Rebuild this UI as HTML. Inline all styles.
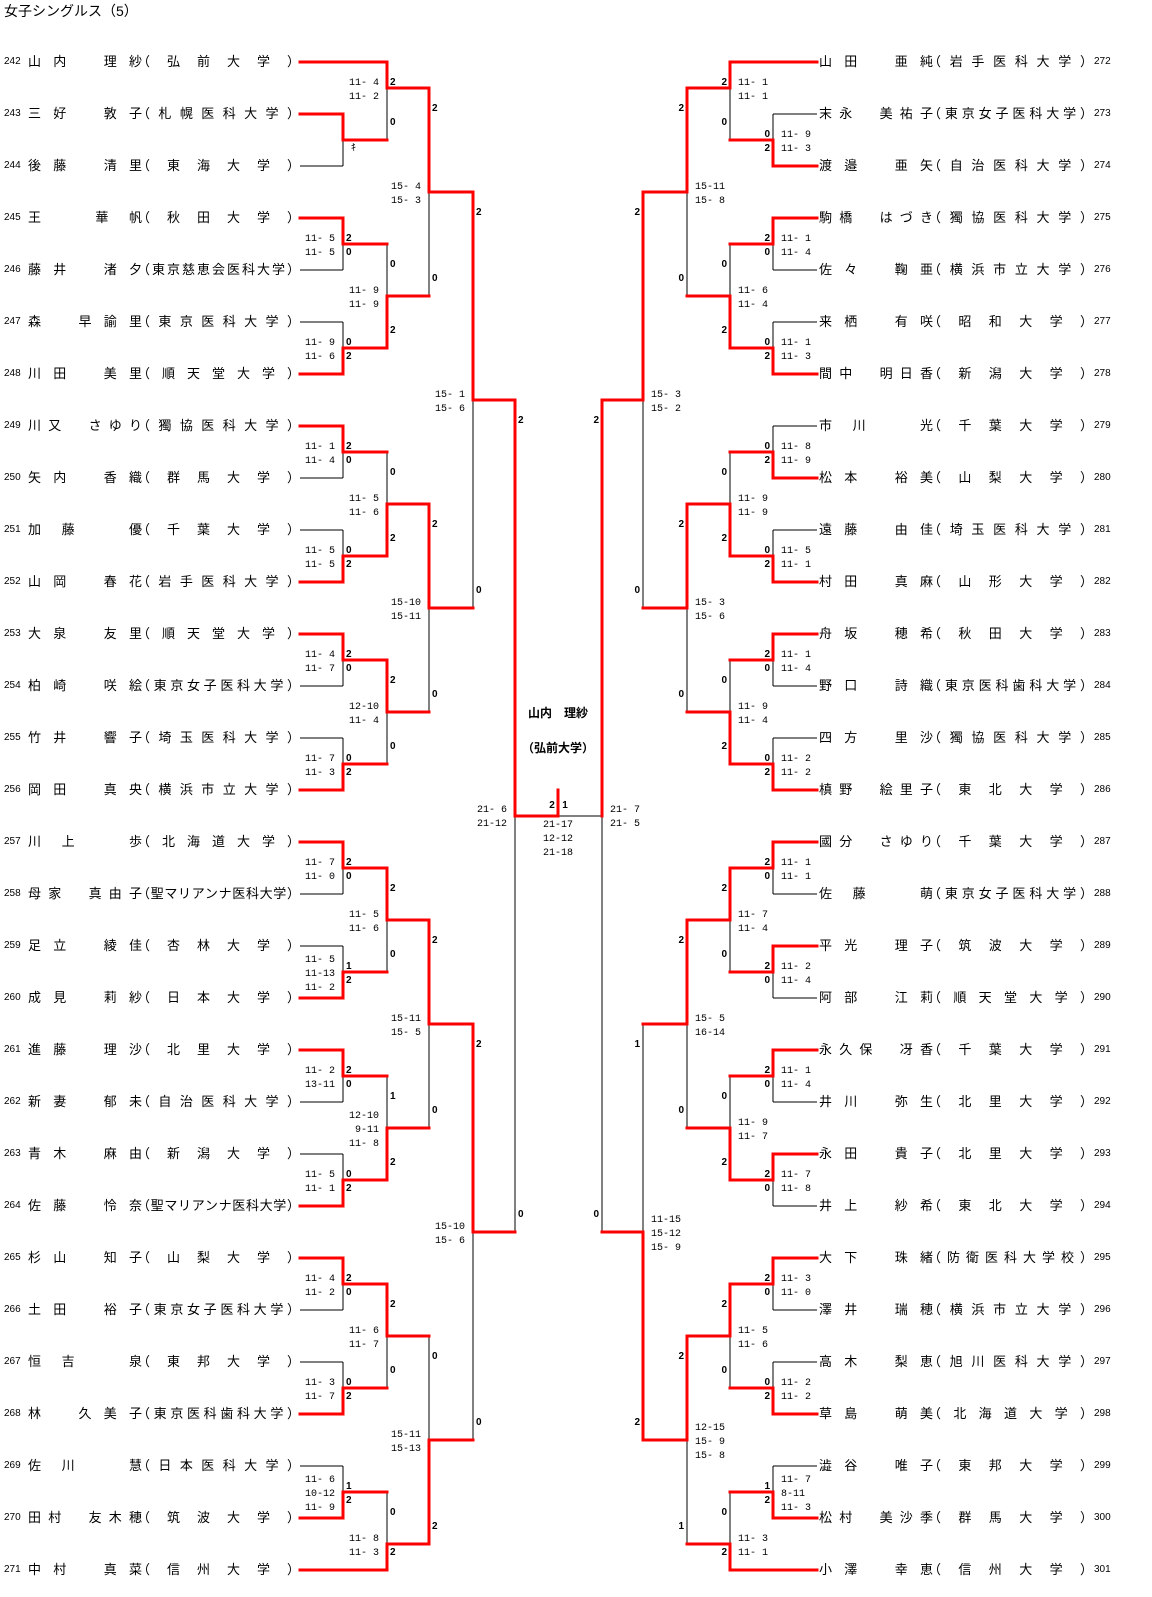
<!DOCTYPE html>
<html><head><meta charset="utf-8">
<style>
html,body{margin:0;padding:0;background:#fff;}
body{width:1152px;height:1597px;position:relative;overflow:hidden;font-family:"Liberation Sans","Noto Sans CJK JP",sans-serif;color:#000;}
svg{position:absolute;left:0;top:0;}
.r{position:absolute;left:0;width:1152px;height:16px;line-height:16px;font-size:13px;}
.r span{position:absolute;top:0;white-space:nowrap;text-align:justify;text-align-last:justify;}
.n{font-size:10px;font-family:"Liberation Sans",sans-serif;}
.L .n{left:4px;width:20px;text-align-last:auto!important;}
.L .nm{left:28px;width:114px;}
.L .u{left:137px;width:163px;}
.R .nm{left:819px;width:114px;}
.R .u{left:928px;width:165px;}
.R .n{left:1094px;width:22px;text-align-last:auto!important;}
.t{position:absolute;left:4px;top:2px;font-size:14px;line-height:18px;}
.s{font-family:"Liberation Mono",monospace;font-size:10px;white-space:pre;}
.g{font-family:"Liberation Sans",sans-serif;font-size:10px;font-weight:bold;}
.c{position:absolute;left:458px;width:200px;text-align:center;font-size:12px;font-weight:bold;}
</style></head><body>
<div class="t">女子シングルス（5）</div>
<svg width="1152" height="1597" viewBox="0 0 1152 1597">
<g fill="none" stroke="#000" stroke-width="1" shape-rendering="crispEdges">
<path d="M300 62H387 M300 114H343 M300 166H343 M300 218H343 M300 270H343 M300 322H343 M300 374H343 M300 426H343 M300 478H343 M300 530H343 M300 582H343 M300 634H343 M300 686H343 M300 738H343 M300 790H343 M300 842H343 M300 894H343 M300 946H343 M300 998H343 M300 1050H343 M300 1102H343 M300 1154H343 M300 1206H343 M300 1258H343 M300 1310H343 M300 1362H343 M300 1414H343 M300 1466H343 M300 1518H343 M300 1570H387
M343 114V166 M343 218V270 M343 322V374 M343 426V478 M343 530V582 M343 634V686 M343 738V790 M343 842V894 M343 946V998 M343 1050V1102 M343 1154V1206 M343 1258V1310 M343 1362V1414 M343 1466V1518
M387 62V140 M387 244V348 M387 452V556 M387 660V764 M387 868V972 M387 1076V1180 M387 1284V1388 M387 1492V1570
M429 88V296 M429 504V712 M429 920V1128 M429 1336V1544
M473 192V608 M473 1024V1440
M515 400V1232 M515 816H602 M602 400V1232
M730 62H817 M773 114H817 M773 166H817 M773 218H817 M773 270H817 M773 322H817 M773 374H817 M773 426H817 M773 478H817 M773 530H817 M773 582H817 M773 634H817 M773 686H817 M773 738H817 M773 790H817 M773 842H817 M773 894H817 M773 946H817 M773 998H817 M773 1050H817 M773 1102H817 M773 1154H817 M773 1206H817 M773 1258H817 M773 1310H817 M773 1362H817 M773 1414H817 M773 1466H817 M773 1518H817 M730 1570H817
M773 114V166 M773 218V270 M773 322V374 M773 426V478 M773 530V582 M773 634V686 M773 738V790 M773 842V894 M773 946V998 M773 1050V1102 M773 1154V1206 M773 1258V1310 M773 1362V1414 M773 1466V1518
M730 62V140 M730 244V348 M730 452V556 M730 660V764 M730 868V972 M730 1076V1180 M730 1284V1388 M730 1492V1570
M687 88V296 M687 504V712 M687 920V1128 M687 1336V1544
M643 192V608 M643 1024V1440"/>
</g>
<g fill="none" stroke="#f00" stroke-width="3" stroke-linecap="square" stroke-linejoin="miter">
<path d="M300 62H387V88H429V192H473V400H515V816H558V790
M300 114H343V140H387
M300 218H343V244H387
M300 374H343V348H387V296H429
M300 426H343V452H387
M300 582H343V556H387V504H429V608H473
M300 634H343V660H387V712H429
M300 790H343V764H387
M300 842H343V868H387V920H429V1024H473V1232H515
M300 998H343V972H387
M300 1050H343V1076H387
M300 1206H343V1180H387V1128H429
M300 1258H343V1284H387V1336H429
M300 1414H343V1388H387
M300 1518H343V1492H387
M300 1570H387V1544H429V1440H473
M817 62H730V88H687V192H643V400H602V816
M817 166H773V140H730
M817 218H773V244H730
M817 374H773V348H730V296H687
M817 478H773V452H730
M817 582H773V556H730V504H687V608H643
M817 634H773V660H730
M817 790H773V764H730V712H687
M817 842H773V868H730V920H687V1024H643
M817 946H773V972H730
M817 1050H773V1076H730
M817 1154H773V1180H730V1128H687
M817 1258H773V1284H730V1336H687V1440H643V1232H602
M817 1414H773V1388H730
M817 1518H773V1492H730
M817 1570H730V1544H687"/>
</g>
<g class="s" text-anchor="end">
<text x="379" y="85">11- 4</text><text x="379" y="99">11- 2</text>
<text x="335" y="241">11- 5</text><text x="335" y="255">11- 5</text>
<text x="335" y="345">11- 9</text><text x="335" y="359">11- 6</text>
<text x="379" y="293">11- 9</text><text x="379" y="307">11- 9</text>
<text x="421" y="189">15- 4</text><text x="421" y="203">15- 3</text>
<text x="335" y="449">11- 1</text><text x="335" y="463">11- 4</text>
<text x="335" y="553">11- 5</text><text x="335" y="567">11- 5</text>
<text x="379" y="501">11- 5</text><text x="379" y="515">11- 6</text>
<text x="335" y="657">11- 4</text><text x="335" y="671">11- 7</text>
<text x="335" y="761">11- 7</text><text x="335" y="775">11- 3</text>
<text x="379" y="709">12-10</text><text x="379" y="723">11- 4</text>
<text x="421" y="605">15-10</text><text x="421" y="619">15-11</text>
<text x="465" y="397">15- 1</text><text x="465" y="411">15- 6</text>
<text x="335" y="865">11- 7</text><text x="335" y="879">11- 0</text>
<text x="335" y="962">11- 5</text><text x="335" y="976">11-13</text><text x="335" y="990">11- 2</text>
<text x="379" y="917">11- 5</text><text x="379" y="931">11- 6</text>
<text x="335" y="1073">11- 2</text><text x="335" y="1087">13-11</text>
<text x="335" y="1177">11- 5</text><text x="335" y="1191">11- 1</text>
<text x="379" y="1118">12-10</text><text x="379" y="1132"> 9-11</text><text x="379" y="1146">11- 8</text>
<text x="421" y="1021">15-11</text><text x="421" y="1035">15- 5</text>
<text x="335" y="1281">11- 4</text><text x="335" y="1295">11- 2</text>
<text x="335" y="1385">11- 3</text><text x="335" y="1399">11- 7</text>
<text x="379" y="1333">11- 6</text><text x="379" y="1347">11- 7</text>
<text x="335" y="1482">11- 6</text><text x="335" y="1496">10-12</text><text x="335" y="1510">11- 9</text>
<text x="379" y="1541">11- 8</text><text x="379" y="1555">11- 3</text>
<text x="421" y="1437">15-11</text><text x="421" y="1451">15-13</text>
<text x="465" y="1229">15-10</text><text x="465" y="1243">15- 6</text>
<text x="507" y="812">21- 6</text><text x="507" y="826">21-12</text>
</g>
<g class="s" text-anchor="start">
<text x="781" y="137">11- 9</text><text x="781" y="151">11- 3</text>
<text x="738" y="85">11- 1</text><text x="738" y="99">11- 1</text>
<text x="781" y="241">11- 1</text><text x="781" y="255">11- 4</text>
<text x="781" y="345">11- 1</text><text x="781" y="359">11- 3</text>
<text x="738" y="293">11- 6</text><text x="738" y="307">11- 4</text>
<text x="695" y="189">15-11</text><text x="695" y="203">15- 8</text>
<text x="781" y="449">11- 8</text><text x="781" y="463">11- 9</text>
<text x="781" y="553">11- 5</text><text x="781" y="567">11- 1</text>
<text x="738" y="501">11- 9</text><text x="738" y="515">11- 9</text>
<text x="781" y="657">11- 1</text><text x="781" y="671">11- 4</text>
<text x="781" y="761">11- 2</text><text x="781" y="775">11- 2</text>
<text x="738" y="709">11- 9</text><text x="738" y="723">11- 4</text>
<text x="695" y="605">15- 3</text><text x="695" y="619">15- 6</text>
<text x="651" y="397">15- 3</text><text x="651" y="411">15- 2</text>
<text x="781" y="865">11- 1</text><text x="781" y="879">11- 1</text>
<text x="781" y="969">11- 2</text><text x="781" y="983">11- 4</text>
<text x="738" y="917">11- 7</text><text x="738" y="931">11- 4</text>
<text x="781" y="1073">11- 1</text><text x="781" y="1087">11- 4</text>
<text x="781" y="1177">11- 7</text><text x="781" y="1191">11- 8</text>
<text x="738" y="1125">11- 9</text><text x="738" y="1139">11- 7</text>
<text x="695" y="1021">15- 5</text><text x="695" y="1035">16-14</text>
<text x="781" y="1281">11- 3</text><text x="781" y="1295">11- 0</text>
<text x="781" y="1385">11- 2</text><text x="781" y="1399">11- 2</text>
<text x="738" y="1333">11- 5</text><text x="738" y="1347">11- 6</text>
<text x="781" y="1482">11- 7</text><text x="781" y="1496"> 8-11</text><text x="781" y="1510">11- 3</text>
<text x="738" y="1541">11- 3</text><text x="738" y="1555">11- 1</text>
<text x="695" y="1430">12-15</text><text x="695" y="1444">15- 9</text><text x="695" y="1458">15- 8</text>
<text x="651" y="1222">11-15</text><text x="651" y="1236">15-12</text><text x="651" y="1250">15- 9</text>
<text x="610" y="812">21- 7</text><text x="610" y="826">21- 5</text>
</g>
<g class="s" text-anchor="middle">
<text x="558" y="827">21-17</text><text x="558" y="841">12-12</text><text x="558" y="855">21-18</text>
</g>
<g class="g" text-anchor="start">
<text x="351" y="151" style="font-weight:normal">ｷ</text>
<text x="390" y="85">2</text><text x="390" y="125">0</text>
<text x="346" y="241">2</text><text x="346" y="255">0</text>
<text x="346" y="345">0</text><text x="346" y="359">2</text>
<text x="390" y="267">0</text><text x="390" y="333">2</text>
<text x="432" y="111">2</text><text x="432" y="281">0</text>
<text x="346" y="449">2</text><text x="346" y="463">0</text>
<text x="346" y="553">0</text><text x="346" y="567">2</text>
<text x="390" y="475">0</text><text x="390" y="541">2</text>
<text x="346" y="657">2</text><text x="346" y="671">0</text>
<text x="346" y="761">0</text><text x="346" y="775">2</text>
<text x="390" y="683">2</text><text x="390" y="749">0</text>
<text x="432" y="527">2</text><text x="432" y="697">0</text>
<text x="476" y="215">2</text><text x="476" y="593">0</text>
<text x="346" y="865">2</text><text x="346" y="879">0</text>
<text x="346" y="969">1</text><text x="346" y="983">2</text>
<text x="390" y="891">2</text><text x="390" y="957">0</text>
<text x="346" y="1073">2</text><text x="346" y="1087">0</text>
<text x="346" y="1177">0</text><text x="346" y="1191">2</text>
<text x="390" y="1099">1</text><text x="390" y="1165">2</text>
<text x="432" y="943">2</text><text x="432" y="1113">0</text>
<text x="346" y="1281">2</text><text x="346" y="1295">0</text>
<text x="346" y="1385">0</text><text x="346" y="1399">2</text>
<text x="390" y="1307">2</text><text x="390" y="1373">0</text>
<text x="346" y="1489">1</text><text x="346" y="1503">2</text>
<text x="390" y="1515">0</text><text x="390" y="1555">2</text>
<text x="432" y="1359">0</text><text x="432" y="1529">2</text>
<text x="476" y="1047">2</text><text x="476" y="1425">0</text>
<text x="518" y="423">2</text><text x="518" y="1217">0</text>
</g>
<g class="g" text-anchor="end">
<text x="770" y="137">0</text><text x="770" y="151">2</text>
<text x="727" y="85">2</text><text x="727" y="125">0</text>
<text x="770" y="241">2</text><text x="770" y="255">0</text>
<text x="770" y="345">0</text><text x="770" y="359">2</text>
<text x="727" y="267">0</text><text x="727" y="333">2</text>
<text x="684" y="111">2</text><text x="684" y="281">0</text>
<text x="770" y="449">0</text><text x="770" y="463">2</text>
<text x="770" y="553">0</text><text x="770" y="567">2</text>
<text x="727" y="475">0</text><text x="727" y="541">2</text>
<text x="770" y="657">2</text><text x="770" y="671">0</text>
<text x="770" y="761">0</text><text x="770" y="775">2</text>
<text x="727" y="683">0</text><text x="727" y="749">2</text>
<text x="684" y="527">2</text><text x="684" y="697">0</text>
<text x="640" y="215">2</text><text x="640" y="593">0</text>
<text x="770" y="865">2</text><text x="770" y="879">0</text>
<text x="770" y="969">2</text><text x="770" y="983">0</text>
<text x="727" y="891">2</text><text x="727" y="957">0</text>
<text x="770" y="1073">2</text><text x="770" y="1087">0</text>
<text x="770" y="1177">2</text><text x="770" y="1191">0</text>
<text x="727" y="1099">0</text><text x="727" y="1165">2</text>
<text x="684" y="943">2</text><text x="684" y="1113">0</text>
<text x="770" y="1281">2</text><text x="770" y="1295">0</text>
<text x="770" y="1385">0</text><text x="770" y="1399">2</text>
<text x="727" y="1307">2</text><text x="727" y="1373">0</text>
<text x="770" y="1489">1</text><text x="770" y="1503">2</text>
<text x="727" y="1515">0</text><text x="727" y="1555">2</text>
<text x="684" y="1359">2</text><text x="684" y="1529">1</text>
<text x="640" y="1047">1</text><text x="640" y="1425">2</text>
<text x="599" y="423">2</text><text x="599" y="1217">0</text>
</g>
<g class="g" text-anchor="middle">
<text x="552" y="808">2</text><text x="565" y="808">1</text>
</g>
</svg>
<div class="c" style="top:704px">山内　理紗</div>
<div class="c" style="top:739px">（弘前大学）</div>

<div class="r L" style="top:54px"><span class="n">242</span><span class="nm">山内　理紗</span><span class="u">（弘前大学）</span></div>
<div class="r L" style="top:106px"><span class="n">243</span><span class="nm">三好　敦子</span><span class="u">（札幌医科大学）</span></div>
<div class="r L" style="top:158px"><span class="n">244</span><span class="nm">後藤　清里</span><span class="u">（東海大学）</span></div>
<div class="r L" style="top:210px"><span class="n">245</span><span class="nm">王　華帆</span><span class="u">（秋田大学）</span></div>
<div class="r L" style="top:262px"><span class="n">246</span><span class="nm">藤井　渚夕</span><span class="u">（東京慈恵会医科大学）</span></div>
<div class="r L" style="top:314px"><span class="n">247</span><span class="nm">森　早諭里</span><span class="u">（東京医科大学）</span></div>
<div class="r L" style="top:366px"><span class="n">248</span><span class="nm">川田　美里</span><span class="u">（順天堂大学）</span></div>
<div class="r L" style="top:418px"><span class="n">249</span><span class="nm">川又　さゆり</span><span class="u">（獨協医科大学）</span></div>
<div class="r L" style="top:470px"><span class="n">250</span><span class="nm">矢内　香織</span><span class="u">（群馬大学）</span></div>
<div class="r L" style="top:522px"><span class="n">251</span><span class="nm">加藤　優</span><span class="u">（千葉大学）</span></div>
<div class="r L" style="top:574px"><span class="n">252</span><span class="nm">山岡　春花</span><span class="u">（岩手医科大学）</span></div>
<div class="r L" style="top:626px"><span class="n">253</span><span class="nm">大泉　友里</span><span class="u">（順天堂大学）</span></div>
<div class="r L" style="top:678px"><span class="n">254</span><span class="nm">柏崎　咲絵</span><span class="u">（東京女子医科大学）</span></div>
<div class="r L" style="top:730px"><span class="n">255</span><span class="nm">竹井　響子</span><span class="u">（埼玉医科大学）</span></div>
<div class="r L" style="top:782px"><span class="n">256</span><span class="nm">岡田　真央</span><span class="u">（横浜市立大学）</span></div>
<div class="r L" style="top:834px"><span class="n">257</span><span class="nm">川上　歩</span><span class="u">（北海道大学）</span></div>
<div class="r L" style="top:886px"><span class="n">258</span><span class="nm">母家　真由子</span><span class="u">（聖マリアンナ医科大学）</span></div>
<div class="r L" style="top:938px"><span class="n">259</span><span class="nm">足立　綾佳</span><span class="u">（杏林大学）</span></div>
<div class="r L" style="top:990px"><span class="n">260</span><span class="nm">成見　莉紗</span><span class="u">（日本大学）</span></div>
<div class="r L" style="top:1042px"><span class="n">261</span><span class="nm">進藤　理沙</span><span class="u">（北里大学）</span></div>
<div class="r L" style="top:1094px"><span class="n">262</span><span class="nm">新妻　郁未</span><span class="u">（自治医科大学）</span></div>
<div class="r L" style="top:1146px"><span class="n">263</span><span class="nm">青木　麻由</span><span class="u">（新潟大学）</span></div>
<div class="r L" style="top:1198px"><span class="n">264</span><span class="nm">佐藤　怜奈</span><span class="u">（聖マリアンナ医科大学）</span></div>
<div class="r L" style="top:1250px"><span class="n">265</span><span class="nm">杉山　知子</span><span class="u">（山梨大学）</span></div>
<div class="r L" style="top:1302px"><span class="n">266</span><span class="nm">土田　裕子</span><span class="u">（東京女子医科大学）</span></div>
<div class="r L" style="top:1354px"><span class="n">267</span><span class="nm">恒吉　泉</span><span class="u">（東邦大学）</span></div>
<div class="r L" style="top:1406px"><span class="n">268</span><span class="nm">林　久美子</span><span class="u">（東京医科歯科大学）</span></div>
<div class="r L" style="top:1458px"><span class="n">269</span><span class="nm">佐川　慧</span><span class="u">（日本医科大学）</span></div>
<div class="r L" style="top:1510px"><span class="n">270</span><span class="nm">田村　友木穂</span><span class="u">（筑波大学）</span></div>
<div class="r L" style="top:1562px"><span class="n">271</span><span class="nm">中村　真菜</span><span class="u">（信州大学）</span></div>

<div class="r R" style="top:54px"><span class="nm">山田　亜純</span><span class="u">（岩手医科大学）</span><span class="n">272</span></div>
<div class="r R" style="top:106px"><span class="nm">末永　美祐子</span><span class="u">（東京女子医科大学）</span><span class="n">273</span></div>
<div class="r R" style="top:158px"><span class="nm">渡邉　亜矢</span><span class="u">（自治医科大学）</span><span class="n">274</span></div>
<div class="r R" style="top:210px"><span class="nm">駒橋　はづき</span><span class="u">（獨協医科大学）</span><span class="n">275</span></div>
<div class="r R" style="top:262px"><span class="nm">佐々　鞠亜</span><span class="u">（横浜市立大学）</span><span class="n">276</span></div>
<div class="r R" style="top:314px"><span class="nm">来栖　有咲</span><span class="u">（昭和大学）</span><span class="n">277</span></div>
<div class="r R" style="top:366px"><span class="nm">間中　明日香</span><span class="u">（新潟大学）</span><span class="n">278</span></div>
<div class="r R" style="top:418px"><span class="nm">市川　光</span><span class="u">（千葉大学）</span><span class="n">279</span></div>
<div class="r R" style="top:470px"><span class="nm">松本　裕美</span><span class="u">（山梨大学）</span><span class="n">280</span></div>
<div class="r R" style="top:522px"><span class="nm">遠藤　由佳</span><span class="u">（埼玉医科大学）</span><span class="n">281</span></div>
<div class="r R" style="top:574px"><span class="nm">村田　真麻</span><span class="u">（山形大学）</span><span class="n">282</span></div>
<div class="r R" style="top:626px"><span class="nm">舟坂　穂希</span><span class="u">（秋田大学）</span><span class="n">283</span></div>
<div class="r R" style="top:678px"><span class="nm">野口　詩織</span><span class="u">（東京医科歯科大学）</span><span class="n">284</span></div>
<div class="r R" style="top:730px"><span class="nm">四方　里沙</span><span class="u">（獨協医科大学）</span><span class="n">285</span></div>
<div class="r R" style="top:782px"><span class="nm">槙野　絵里子</span><span class="u">（東北大学）</span><span class="n">286</span></div>
<div class="r R" style="top:834px"><span class="nm">國分　さゆり</span><span class="u">（千葉大学）</span><span class="n">287</span></div>
<div class="r R" style="top:886px"><span class="nm">佐藤　萌</span><span class="u">（東京女子医科大学）</span><span class="n">288</span></div>
<div class="r R" style="top:938px"><span class="nm">平光　理子</span><span class="u">（筑波大学）</span><span class="n">289</span></div>
<div class="r R" style="top:990px"><span class="nm">阿部　江莉</span><span class="u">（順天堂大学）</span><span class="n">290</span></div>
<div class="r R" style="top:1042px"><span class="nm">永久保　冴香</span><span class="u">（千葉大学）</span><span class="n">291</span></div>
<div class="r R" style="top:1094px"><span class="nm">井川　弥生</span><span class="u">（北里大学）</span><span class="n">292</span></div>
<div class="r R" style="top:1146px"><span class="nm">永田　貴子</span><span class="u">（北里大学）</span><span class="n">293</span></div>
<div class="r R" style="top:1198px"><span class="nm">井上　紗希</span><span class="u">（東北大学）</span><span class="n">294</span></div>
<div class="r R" style="top:1250px"><span class="nm">大下　珠緒</span><span class="u">（防衛医科大学校）</span><span class="n">295</span></div>
<div class="r R" style="top:1302px"><span class="nm">澤井　瑞穂</span><span class="u">（横浜市立大学）</span><span class="n">296</span></div>
<div class="r R" style="top:1354px"><span class="nm">高木　梨恵</span><span class="u">（旭川医科大学）</span><span class="n">297</span></div>
<div class="r R" style="top:1406px"><span class="nm">草島　萌美</span><span class="u">（北海道大学）</span><span class="n">298</span></div>
<div class="r R" style="top:1458px"><span class="nm">澁谷　唯子</span><span class="u">（東邦大学）</span><span class="n">299</span></div>
<div class="r R" style="top:1510px"><span class="nm">松村　美沙季</span><span class="u">（群馬大学）</span><span class="n">300</span></div>
<div class="r R" style="top:1562px"><span class="nm">小澤　幸恵</span><span class="u">（信州大学）</span><span class="n">301</span></div>
</body></html>
